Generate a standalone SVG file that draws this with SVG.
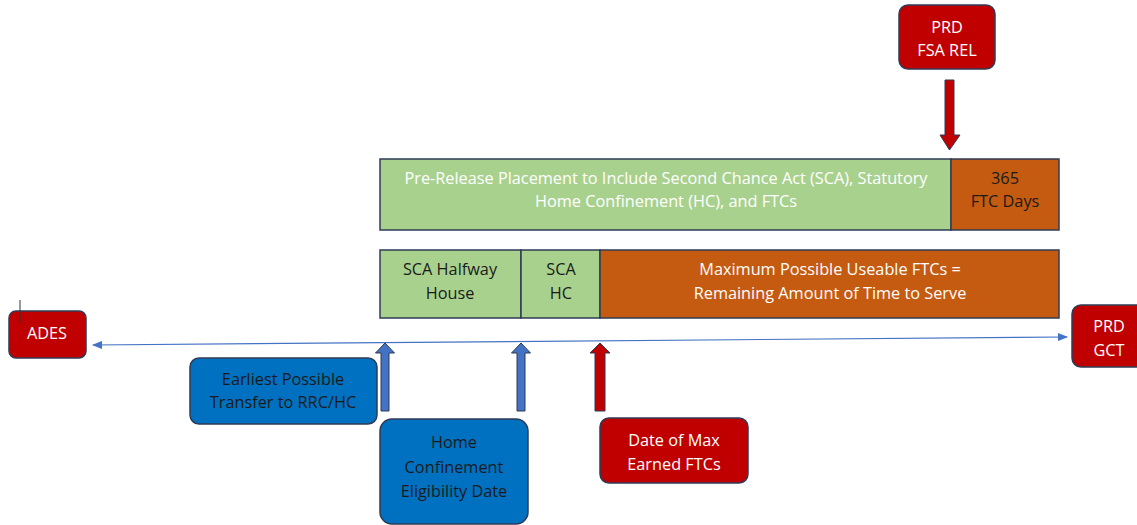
<svg xmlns="http://www.w3.org/2000/svg" width="1137" height="525" viewBox="0 0 1137 525">
<style>
text{font-family:"Open Sans","Liberation Sans",sans-serif;font-size:16.3px;text-anchor:middle;dominant-baseline:middle}
.w{fill:#ffffff}.k{fill:#1a1a1a}
.red{fill:#C00000;stroke:#2F3B55;stroke-width:1.5}
.blue{fill:#0070C0;stroke:#2F3B55;stroke-width:1.5}
.grn{fill:#A9D18E;stroke:#2F3B55;stroke-width:1.5}
.org{fill:#C55A11;stroke:#2F3B55;stroke-width:1.5}
.ab{fill:#4472C4;stroke:#2F3B55;stroke-width:1}
.ar{fill:#C00000;stroke:#2F3B55;stroke-width:1}
</style>
<defs>
<marker id="ah" markerWidth="10" markerHeight="8" refX="9" refY="4" orient="auto-start-reverse" markerUnits="userSpaceOnUse">
<path d="M0,0 L10,4 L0,8 Z" fill="#4472C4"/>
</marker>
</defs>
<g id="connectors">
<line x1="93" y1="345" x2="1067" y2="337" stroke="#4472C4" stroke-width="1.2" marker-start="url(#ah)" marker-end="url(#ah)"/>
<path class="ar" d="M945,80 H954 V135 H960 L949.5,150 L940,135 H945 Z"/>
<path class="ab" d="M381,411 V353 H375.5 L385,343 L394.5,353 H389 V411 Z"/>
<path class="ab" d="M517,411 V353 H511.5 L521,343 L530.5,353 H525 V411 Z"/>
<path class="ar" d="M595,411 V353 H590 L600,343 L610,353 H605 V411 Z"/>
</g>
<g id="ades"><rect class="red" x="9" y="311" width="77" height="47" rx="7"/><text class="w" x="47" y="335">ADES</text><line x1="20" y1="300" x2="20" y2="323" stroke="#333" stroke-width="1"/></g>
<g id="prd-fsa"><rect class="red" x="899" y="5" width="96" height="64" rx="9"/><text class="w" x="947" y="29">PRD</text><text class="w" x="947" y="52">FSA REL</text></g>
<g id="prd-gct"><rect class="red" x="1072" y="305" width="80" height="62" rx="9"/><text class="w" x="1109" y="328">PRD</text><text class="w" x="1109" y="352">GCT</text></g>
<g id="pre-release"><rect class="grn" x="380" y="159" width="571" height="71"/><text class="w" x="666" y="180">Pre-Release Placement to Include Second Chance Act (SCA), Statutory</text><text class="w" x="666" y="203">Home Confinement (HC), and FTCs</text></g>
<g id="ftc365"><rect class="org" x="951" y="159" width="108" height="71"/><text class="k" x="1005" y="180">365</text><text class="k" x="1005" y="203">FTC Days</text></g>
<g id="sca-halfway"><rect class="grn" x="380" y="250" width="141" height="68"/><text class="k" x="450" y="271">SCA Halfway</text><text class="k" x="450" y="295">House</text></g>
<g id="sca-hc"><rect class="grn" x="521" y="250" width="79" height="68"/><text class="k" x="561" y="271">SCA</text><text class="k" x="561" y="295">HC</text></g>
<g id="max-ftc"><rect class="org" x="600" y="250" width="459" height="68"/><text class="w" x="830" y="271">Maximum Possible Useable FTCs =</text><text class="w" x="830" y="295">Remaining Amount of Time to Serve</text></g>
<g id="earliest"><rect class="blue" x="190" y="358" width="187" height="66" rx="9"/><text class="k" x="283" y="381">Earliest Possible</text><text class="k" x="283" y="404">Transfer to RRC/HC</text></g>
<g id="home-conf"><rect class="blue" x="380" y="419" width="148" height="105" rx="12"/><text class="k" x="454" y="444">Home</text><text class="k" x="454" y="469">Confinement</text><text class="k" x="454" y="493">Eligibility Date</text></g>
<g id="date-max"><rect class="red" x="600" y="418" width="148" height="65" rx="9"/><text class="w" x="674" y="442">Date of Max</text><text class="w" x="674" y="466">Earned FTCs</text></g>
</svg>
